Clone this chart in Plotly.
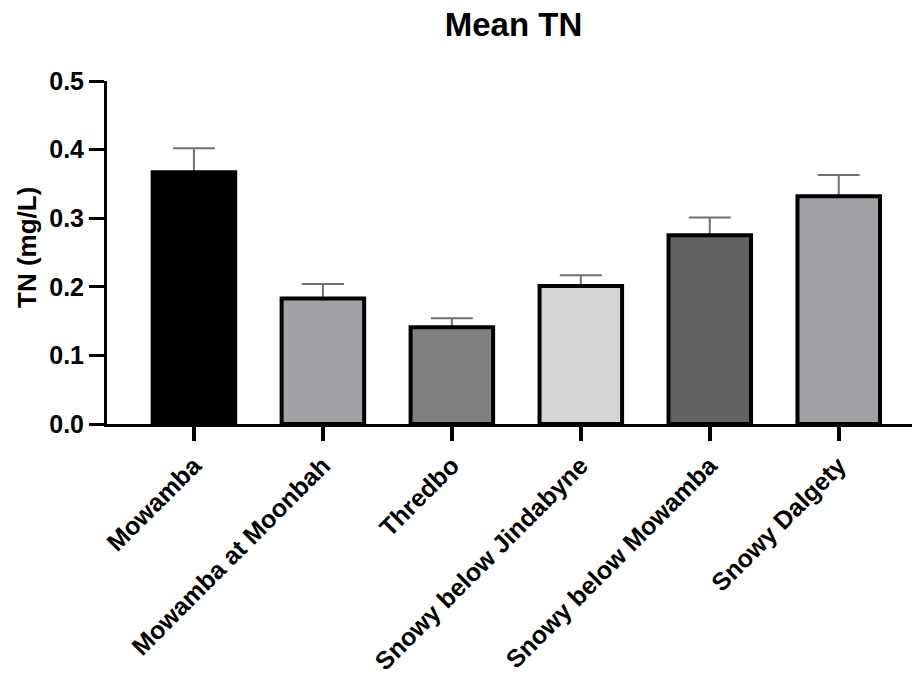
import plotly.graph_objects as go

sites = ["Mowamba", "Mowamba at Moonbah", "Thredbo", "Snowy below Jindabyne",
         "Snowy below Mowamba", "Snowy Dalgety"]
mean_tn = [0.367, 0.183, 0.141, 0.201, 0.275, 0.332]
sem_tn = [0.035, 0.021, 0.013, 0.016, 0.026, 0.031]
bar_colors = ["#000000", "#a2a2a6", "#808080", "#d4d4d4", "#636363", "#a2a2a6"]
y_ticks = [0.0, 0.1, 0.2, 0.3, 0.4, 0.5]

FONT = "Liberation Sans, Arial, sans-serif"

# page body has an 8px margin, so the layout is offset by -8px
L, T, PW, PH = 99, 73, 813, 343

fig = go.Figure()
# error bars (upper only) drawn first, underneath the bar outlines
fig.add_trace(go.Bar(
    x=sites, y=mean_tn, width=0.64,
    marker=dict(color="rgba(0,0,0,0)", line=dict(width=0)),
    error_y=dict(type="data", symmetric=False, array=sem_tn,
                 arrayminus=[0] * len(sem_tn),
                 color="#707070", thickness=2, width=21),
    hoverinfo="skip",
))
fig.add_trace(go.Bar(
    x=sites, y=mean_tn, width=0.64,
    marker=dict(color=bar_colors, line=dict(color="black", width=4)),
))

fig.update_layout(
    width=920, height=677,
    barmode="overlay",
    margin=dict(l=L, r=920 - L - PW, t=T, b=677 - T - PH, autoexpand=False),
    plot_bgcolor="white", paper_bgcolor="white",
    showlegend=False,
    title=dict(text="Mean TN", x=(L + PW / 2) / 920, xanchor="center",
               y=1 - 16 / 677, yanchor="middle", yref="container",
               font=dict(family=FONT, size=33, color="black", weight="bold")),
    xaxis=dict(range=[-0.674, 5.63], showline=True, linecolor="black", linewidth=3,
               ticks="outside", ticklen=14, tickwidth=4, tickcolor="black",
               tickangle=-45, showgrid=False, zeroline=False,
               tickfont=dict(family=FONT, size=25, color="black", weight="bold")),
    yaxis=dict(range=[0, 0.5], tickvals=y_ticks, ticktext=[f"{v:.1f}" for v in y_ticks],
               showline=True, linecolor="black", linewidth=3,
               ticks="outside", ticklen=15, tickwidth=3, tickcolor="black",
               showgrid=False, zeroline=False,
               tickfont=dict(family=FONT, size=25, color="black", weight="bold")),
    annotations=[dict(text="TN (mg/L)", textangle=-90, xref="paper", yref="paper",
                      x=(19 - L) / PW, y=(T + PH - 240) / PH, xanchor="center",
                      yanchor="middle", showarrow=False,
                      font=dict(family=FONT, size=26, color="black", weight="bold"))],
)

fig.write_html("out.html")
